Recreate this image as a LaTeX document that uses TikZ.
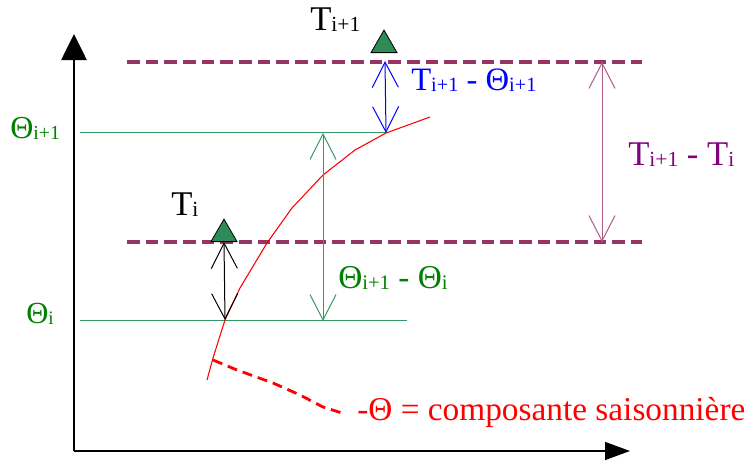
\documentclass[tikz,border=0pt]{standalone}
\usepackage{fontspec}
\setmainfont{Liberation Serif}
\newfontfamily\tms{Liberation Serif}
\usetikzlibrary{arrows.meta,shapes.geometric}
\definecolor{dashpurple}{RGB}{153,51,102}
\definecolor{txtpurple}{RGB}{128,0,128}
\definecolor{lgreen}{RGB}{51,153,102}
\definecolor{tgreen}{RGB}{0,128,0}
\definecolor{trifill}{RGB}{46,139,87}
\newcommand\lsub[1]{\raisebox{-0.04em}{\scalebox{0.62}{#1}}}
\begin{document}
\begin{tikzpicture}[x=0.75pt,y=-0.75pt,
  axisy/.style={line width=1.1pt,-{Triangle[length=19.5pt,width=19pt]}},
  axisx/.style={line width=1.1pt,-{Triangle[length=18.75pt,width=13.5pt]}},
  levelline/.style={dashpurple,line width=2.7pt,dash pattern=on 9.5pt off 4.5pt},
  thetaline/.style={lgreen,line width=0.6pt},
  barb/.style={line width=0.75pt,{Straight Barb[length=19pt,width=19.5pt]}-{Straight Barb[length=19pt,width=19.5pt]}},
  tri/.style={regular polygon,regular polygon sides=3,minimum size=22.5pt,inner sep=0pt,draw=black,line width=0.6pt,fill=trifill},
  lbl/.style={inner sep=0pt,anchor=base west,font=\tms\fontsize{26}{30}\selectfont},
  curve/.style={red,line width=0.8pt},
  seasonal/.style={red,line width=2.1pt,dash pattern=on 7.5pt off 4.5pt}
]
\useasboundingbox (0,0) rectangle (747,468);
% axes
\coordinate (O) at (74,451);
\coordinate (ytop) at (74,34);
\coordinate (xend) at (630,451);
\draw[axisy] (O) -- (ytop);
\draw[axisx] (O) -- (xend);
% level lines
\coordinate (d1a) at (127,62);
\coordinate (d1b) at (642,62);
\coordinate (d2a) at (127,242);
\coordinate (d2b) at (642,242);
\draw[levelline] (d1a) -- (d1b);
\draw[levelline] (d2a) -- (d2b);
% theta lines
\coordinate (g1a) at (80,132);
\coordinate (g1b) at (386,132);
\coordinate (g2a) at (80,320);
\coordinate (g2b) at (407,320);
\draw[thetaline] (g1a) -- (g1b);
\draw[thetaline] (g2a) -- (g2b);
% red curve
\coordinate (c0) at (207,380);
\coordinate (c1) at (213,358);
\coordinate (thI) at (225,320);
\coordinate (c3) at (240,288);
\coordinate (c4) at (267,243);
\coordinate (c5) at (292,208);
\coordinate (c6) at (323,175);
\coordinate (c7) at (355,150);
\coordinate (thJ) at (386,133);
\coordinate (c9) at (430,117);
\draw[curve] (c0) -- (c1) -- (thI) -- (c3) -- (c4) -- (c5) -- (c6) -- (c7) -- (thJ) -- (c9);
% seasonal dashed
\coordinate (s0) at (213,360);
\coordinate (s1) at (237,370);
\coordinate (s2) at (273,383);
\coordinate (s3) at (300,395);
\coordinate (s4) at (323,407);
\coordinate (s5) at (342,413);
\draw[seasonal] (s0) -- (s1) -- (s2) -- (s3) -- (s4) -- (s5);
% triangles
\node[tri,anchor=side 2] (triI) at (224,242) {};
\node[tri,anchor=side 2] (triJ) at (384,53) {};
% double arrows
\coordinate (bl1) at (385,61);
\coordinate (gr1) at (323,133);
\coordinate (gr2) at (323,321);
\coordinate (pu1) at (602,62);
\coordinate (pu2) at (602,242);
\draw[barb,black] (triI.side 2) -- (thI);
\draw[barb,blue] (bl1) -- (thJ);
\draw[barb,lgreen] (gr1) -- (gr2);
\draw[barb,dashpurple!80] (pu1) -- (pu2);
% labels
\node[lbl] (lTi) at (171,215) {T\lsub{i}};
\node[lbl] (lTj) at (310,30) {T\lsub{i+1}};
\node[lbl,blue,font=\tms\fontsize{24.5}{28}\selectfont] (lblue) at (411,90) {T\lsub{i+1} - Θ\lsub{i+1}};
\node[lbl,txtpurple] (lpur) at (628,165) {T\lsub{i+1} - T\lsub{i}};
\node[lbl,tgreen,font=\tms\fontsize{25}{29}\selectfont] (lgr) at (338,288) {Θ\lsub{i+1} - Θ\lsub{i}};
\node[lbl,tgreen,font=\tms\fontsize{24}{28}\selectfont] (lthJ) at (10,138) {Θ\lsub{i+1}};
\node[lbl,tgreen,font=\tms\fontsize{23}{27}\selectfont] (lthI) at (26,323) {Θ\lsub{i}};
\node[lbl,red,font=\tms\fontsize{25}{29}\selectfont] (lred) at (357,420) {-Θ = composante saisonnière};
\end{tikzpicture}
\end{document}
